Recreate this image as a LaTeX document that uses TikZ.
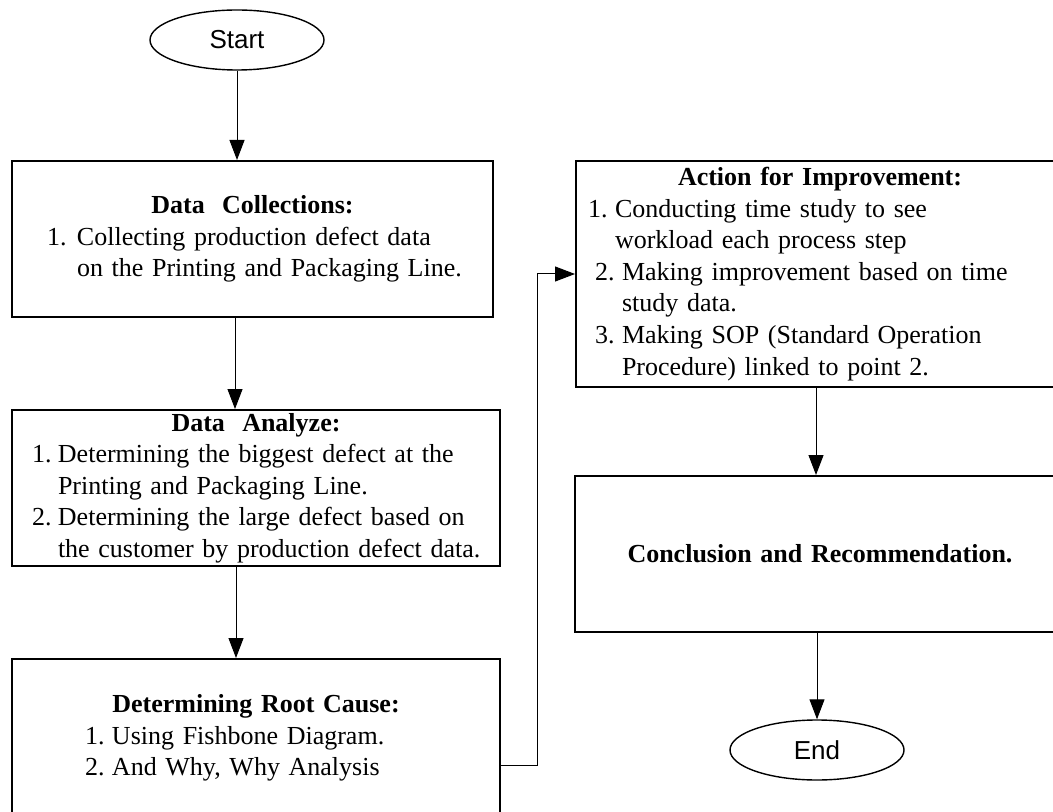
\documentclass[tikz,border=0pt]{standalone}
\usepackage{fontspec}
\setmainfont{Liberation Serif}
\newfontfamily\arialfont{Liberation Sans}
\usetikzlibrary{shapes.geometric,arrows.meta}

\newcommand{\boxtitle}[1]{\makebox[\linewidth]{\bfseries #1}}
\newcommand{\stepno}[2]{\makebox[#1][l]{#2}}

\tikzset{
  term/.style={draw, ellipse, line width=0.7pt, minimum width=87pt, minimum height=30pt,
    inner sep=0pt, font=\arialfont\fontsize{13}{15}\selectfont},
  stepbox/.style={draw, line width=1pt, inner xsep=0pt, inner ysep=0pt, align=left,
    font=\fontsize{13}{15.8}\selectfont},
  flow/.style={line width=0.5pt, -{Triangle[length=10pt,width=7.5pt]}}
}

\begin{document}
\begin{tikzpicture}[x=0.5pt,y=-0.5pt]
        \useasboundingbox (0,0) rectangle (1053,812);
        \clip (0,0) rectangle (1053,812);

        % left column
        \node[term] (start) at (237,40) {Start};

        \node[stepbox, text width=240.5pt, minimum height=78pt] (collect) at (252.5,239)
          {\boxtitle{Data\ \ Collections:}\\
           \hspace*{17.5pt}\stepno{15pt}{1.}Collecting production defect data\\
           \hspace*{32.5pt}on the Printing and Packaging Line.};

        \node[stepbox, text width=244pt, minimum height=78pt] (analyze) at (256,488)
          {\boxtitle{Data\ \ Analyze:}\\
           \hspace*{10pt}\stepno{13pt}{1.}Determining the biggest defect at the\\
           \hspace*{23pt}Printing and Packaging Line.\\
           \hspace*{10pt}\stepno{13pt}{2.}Determining the large defect based on\\
           \hspace*{23pt}the customer by production defect data.};

        \node[stepbox, text width=244pt, minimum height=79pt] (root) at (256,738)
          {\boxtitle{Determining Root Cause:}\\
           \hspace*{36.5pt}\stepno{13.5pt}{1.}Using Fishbone Diagram.\\
           \hspace*{36.5pt}\stepno{13.5pt}{2.}And Why, Why Analysis};

        % right column
        \node[stepbox, text width=244pt, minimum height=113pt] (action) at (820,274)
          {\boxtitle{Action for Improvement:}\\
           \hspace*{6pt}\stepno{13.5pt}{1.}Conducting time study to see\\
           \hspace*{19.5pt}workload each process step\\
           \hspace*{9.5pt}\stepno{13.5pt}{2.}Making improvement based on time\\
           \hspace*{23pt}study data.\\
           \hspace*{9.5pt}\stepno{13.5pt}{3.}Making SOP (Standard Operation\\
           \hspace*{23pt}Procedure) linked to point 2.};

        \node[stepbox, text width=245pt, minimum height=78pt] (concl) at (820,554)
          {\boxtitle{Conclusion and Recommendation.}};

        \node[term] (end) at (817,750) {End};

        % connectors
        \draw[flow] (start) -- (start |- collect.north);
        \draw[flow] (collect.south -| 235,0) -- (analyze.north -| 235,0);
        \draw[flow] (analyze.south -| 236,0) -- (root.north -| 236,0);

        \coordinate (jog) at (537,274);
        \draw[flow] (root.east |- 0,765) -| (jog) -- (jog -| action.west);

        \draw[flow] (action.south -| 816,0) -- (concl.north -| 816,0);
        \draw[flow] (concl.south -| end) -- (end);
\end{tikzpicture}
\end{document}
